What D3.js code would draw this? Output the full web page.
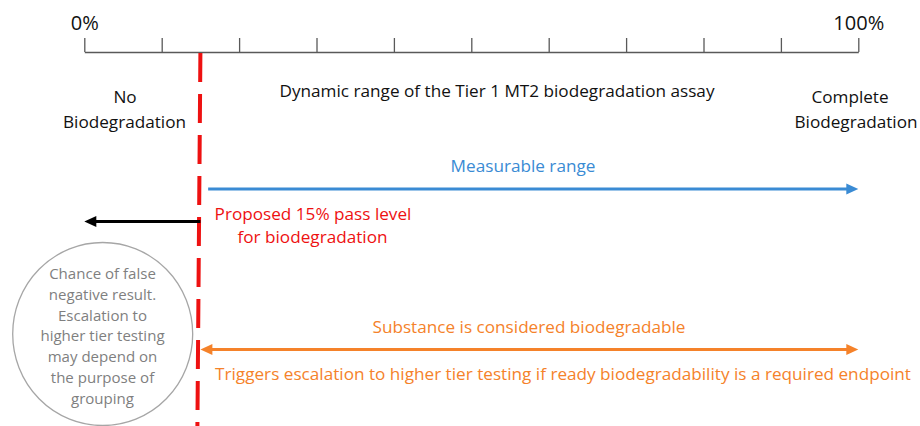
<!DOCTYPE html>
<html>
<head>
<meta charset="utf-8">
<script src="https://cdn.jsdelivr.net/npm/d3@7"></script>
<style>
  body { margin: 0; background: #fff; }
  svg text { font-family: "Open Sans", sans-serif; }
</style>
</head>
<body>
<div id="viz"></div>
<script>
// percent scale ticks
var tickValues = [0, 10, 20, 30, 40, 50, 60, 70, 80, 90, 100];
var tickLabels = ["0%", "", "", "", "", "", "", "", "", "", "100%"];
var passLevel = 15;

// arrows: start / end in percent
var arrowNames = ["Measurable range", "Below pass level", "Substance is considered biodegradable"];
var arrowFrom = [16, 15, 15];
var arrowTo = [100, 0, 100];
var arrowBothHeads = [false, false, true];

var circleLines = ["Chance of false", "negative result.", "Escalation to", "higher tier testing",
                   "may depend on", "the purpose of", "grouping"];

var width = 920, height = 426;

var svg = d3.select("#viz")
    .append("svg")
    .attr("width", width)
    .attr("height", height);

var x = d3.scaleLinear()
    .domain([0, 100])
    .range([84.3, 858.3]);

var axisY = 52;

// font size that makes txt span w pixels
function sizeFor(txt, w) {
    var t = svg.append("text").style("font-size", "16px").text(txt);
    var len = t.node().getComputedTextLength();
    t.remove();
    return 16 * w / len;
}

var bodySize = (sizeFor("Dynamic range of the Tier 1 MT2 biodegradation assay", 439) +
                sizeFor("Triggers escalation to higher tier testing if ready biodegradability is a required endpoint", 700) +
                sizeFor("Substance is considered biodegradable", 310.7) +
                sizeFor("Proposed 15% pass level", 196)) / 4;
var noteSize = (sizeFor("higher tier testing", 125) + sizeFor("negative result.", 108.4) +
                sizeFor("may depend on", 108)) / 3;
var tickSize = sizeFor("100%", 51);

// top axis, ticks pointing up
var axis = svg.append("g")
    .attr("transform", "translate(0," + axisY + ")")
    .call(d3.axisTop(x).tickValues(tickValues).tickSize(14).tickSizeOuter(0)
        .tickFormat(function(d, i) { return tickLabels[i]; }));
axis.select(".domain").attr("stroke", "#595959").attr("stroke-width", 1.3);
axis.selectAll(".tick line").attr("stroke", "#595959").attr("stroke-width", 1.3);
axis.selectAll(".tick text")
    .attr("y", -22)
    .attr("dy", 0)
    .attr("fill", "#111")
    .style("font-size", tickSize + "px")
    .style("font-family", "'Open Sans', sans-serif");

function label(txt, cx, y, size, color) {
    return svg.append("text")
        .attr("x", cx)
        .attr("y", y)
        .attr("text-anchor", "middle")
        .attr("fill", color)
        .style("font-size", size + "px")
        .text(txt);
}

label("No", 125, 103, bodySize, "#111");
label("Biodegradation", 124.5, 128, bodySize, "#111");
label("Dynamic range of the Tier 1 MT2 biodegradation assay", 497, 97, bodySize, "#111");
label("Complete", 850, 103, bodySize, "#111");
label("Biodegradation", 856, 128, bodySize, "#111");

// pass level line (slightly leaning as in the source)
svg.append("line")
    .attr("x1", x(passLevel)).attr("x2", x(passLevel) - 3)
    .attr("y1", axisY + 1).attr("y2", height)
    .attr("stroke", "#ee1111")
    .attr("stroke-width", 4)
    .attr("stroke-dasharray", "29 12");

var arrowRows = [189, 221.5, 349.5];
var arrowColors = ["#3a8bd4", "#000000", "#f5822a"];

function arrowHead(tipX, y, dir, color) {
    var len = 12, half = 5.5;
    svg.append("path")
        .attr("d", "M" + tipX + "," + y +
              "L" + (tipX - dir * len) + "," + (y - half) +
              "L" + (tipX - dir * len) + "," + (y + half) + "Z")
        .attr("fill", color);
}

arrowNames.forEach(function(name, i) {
    var x1 = x(arrowFrom[i]), x2 = x(arrowTo[i]);
    var dir = x2 > x1 ? 1 : -1;
    var y = arrowRows[i];
    svg.append("line")
        .attr("x1", arrowBothHeads[i] ? x1 + dir * 8 : x1)
        .attr("x2", x2 - dir * 8)
        .attr("y1", y).attr("y2", y)
        .attr("stroke", arrowColors[i])
        .attr("stroke-width", 3.2);
    arrowHead(x2, y, dir, arrowColors[i]);
    if (arrowBothHeads[i]) arrowHead(x1, y, -dir, arrowColors[i]);
});

label("Measurable range", 523, 172, bodySize, "#3a8bd4");
label("Proposed 15% pass level", 313, 220, bodySize, "#ee1111");
label("for biodegradation", 312.5, 243, bodySize, "#ee1111");
label("Substance is considered biodegradable", 529, 333, bodySize, "#f5822a");
label("Triggers escalation to higher tier testing if ready biodegradability is a required endpoint", 563, 380, bodySize, "#f5822a");

// note circle
svg.append("ellipse")
    .attr("cx", 102.7)
    .attr("cy", 334)
    .attr("rx", 90)
    .attr("ry", 91.5)
    .attr("fill", "none")
    .attr("stroke", "#a6a6a6")
    .attr("stroke-width", 1.3);

circleLines.forEach(function(t, i) {
    label(t, 102.5, 279 + i * 20.8, noteSize, "#7f7f7f");
});
</script>
</body>
</html>
